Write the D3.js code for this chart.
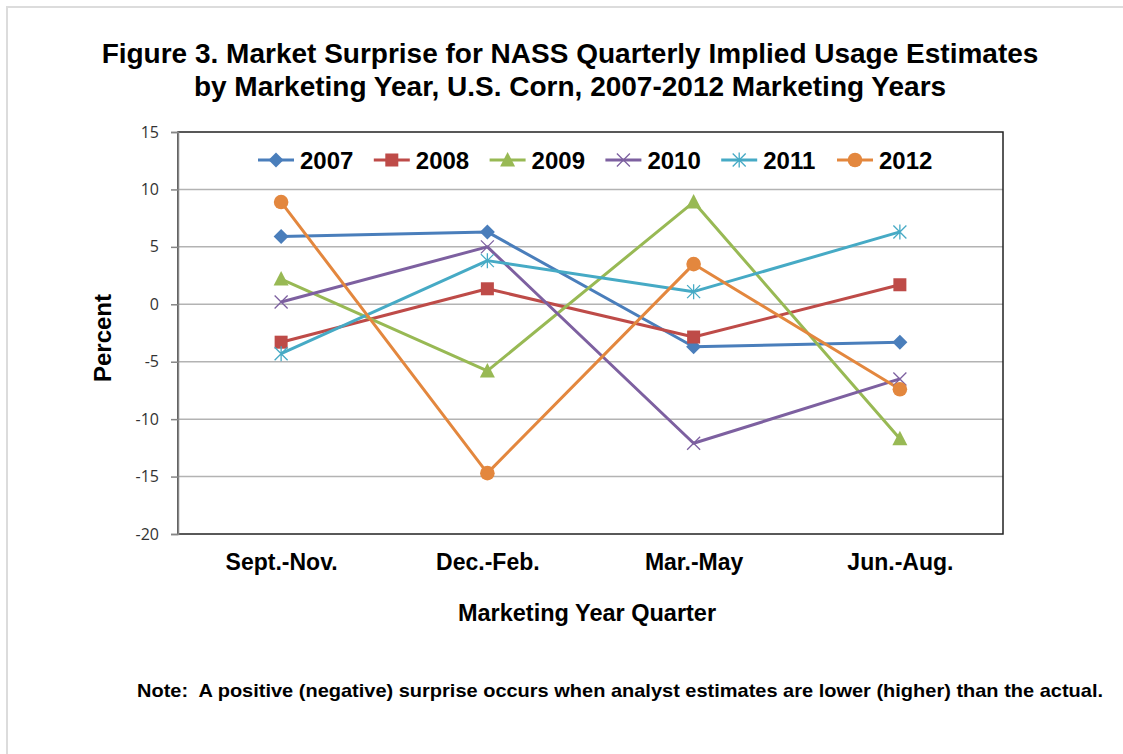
<!DOCTYPE html>
<html>
<head>
<meta charset="utf-8">
<script src="https://cdn.jsdelivr.net/npm/d3@7"></script>
<style>
  body { margin: 0; background: #fff; }
  svg { display: block; font-family: "Liberation Sans", Arial, sans-serif; }
</style>
</head>
<body>
<div id="chart"></div>
<script>
// Data
const quarters = ['Sept.-Nov.', 'Dec.-Feb.', 'Mar.-May', 'Jun.-Aug.'];
const years = ['2007', '2008', '2009', '2010', '2011', '2012'];
const v2007 = [5.9, 6.3, -3.7, -3.3];
const v2008 = [-3.3, 1.35, -2.85, 1.7];
const v2009 = [2.2, -5.8, 8.9, -11.7];
const v2010 = [0.2, 5.0, -12.1, -6.5];
const v2011 = [-4.3, 3.8, 1.1, 6.3];
const v2012 = [8.9, -14.7, 3.5, -7.4];
const yTicks = [-20, -15, -10, -5, 0, 5, 10, 15];

const seriesValues = [v2007, v2008, v2009, v2010, v2011, v2012];
const COLORS = ['#4A7EBB', '#BE4B48', '#98B954', '#7D60A0', '#46AAC5', '#E3873E'];
const MARKERS = ['diamond', 'square', 'triangle', 'x', 'star', 'circle'];

const W = 1123, H = 754;
const PLOT = { left: 178, right: 1003, top: 132, bottom: 534 };

const svg = d3.select('#chart').append('svg')
    .attr('width', W)
    .attr('height', H);

// light outer frame (runs off the right and bottom)
svg.append('path')
    .attr('d', `M7,${H + 5} V7 H${W + 5}`)
    .attr('fill', 'none')
    .attr('stroke', '#dcdcdc')
    .attr('stroke-width', 2);

// title
const title = svg.append('text')
    .attr('text-anchor', 'middle')
    .attr('font-weight', 'bold')
    .attr('font-size', 28)
    .attr('fill', '#000');
title.append('tspan').attr('x', 570).attr('y', 63)
    .text('Figure 3. Market Surprise for NASS Quarterly Implied Usage Estimates');
title.append('tspan').attr('x', 570).attr('y', 96)
    .text('by Marketing Year, U.S. Corn, 2007-2012 Marketing Years');

const x = d3.scalePoint()
    .domain(quarters)
    .range([PLOT.left, PLOT.right])
    .padding(0.5);

const y = d3.scaleLinear()
    .domain([-20, 15])
    .range([PLOT.bottom, PLOT.top]);

// gridlines
svg.append('g')
    .selectAll('line')
    .data(yTicks.filter(t => t > -20 && t < 15))
    .join('line')
    .attr('x1', PLOT.left).attr('x2', PLOT.right)
    .attr('y1', d => y(d)).attr('y2', d => y(d))
    .attr('stroke', '#b3b3b3')
    .attr('stroke-width', 1.5);

// plot area border
svg.append('rect')
    .attr('x', PLOT.left).attr('y', PLOT.top)
    .attr('width', PLOT.right - PLOT.left)
    .attr('height', PLOT.bottom - PLOT.top)
    .attr('fill', 'none')
    .attr('stroke', '#222')
    .attr('stroke-width', 1.5);

// y axis (plain hyphen for negatives, like the original)
const yAxis = d3.axisLeft(y)
    .tickValues(yTicks)
    .tickFormat(d => String(d))
    .tickSize(7)
    .tickPadding(12);
const yg = svg.append('g')
    .attr('transform', `translate(${PLOT.left},0)`)
    .call(yAxis);
yg.select('.domain').attr('stroke', '#868686').attr('stroke-width', 1.5);
yg.selectAll('.tick line').attr('stroke', '#868686').attr('stroke-width', 1.5);
yg.selectAll('.tick text')
    .attr('font-family', '"Open Sans", "Liberation Sans", sans-serif')
    .attr('font-size', 16)
    .attr('fill', '#333');

// x axis labels (no ticks)
const xAxis = d3.axisBottom(x).tickSize(0).tickPadding(20);
const xg = svg.append('g')
    .attr('transform', `translate(0,${PLOT.bottom})`)
    .call(xAxis);
xg.select('.domain').remove();
xg.selectAll('.tick text')
    .attr('font-family', '"Liberation Sans", Arial, sans-serif')
    .attr('font-weight', 'bold')
    .attr('font-size', 23)
    .attr('fill', '#000');

// axis titles
svg.append('text')
    .attr('x', 587).attr('y', 621)
    .attr('text-anchor', 'middle')
    .attr('font-weight', 'bold')
    .attr('font-size', 23.5)
    .text('Marketing Year Quarter');

svg.append('text')
    .attr('transform', 'translate(111,338) rotate(-90)')
    .attr('text-anchor', 'middle')
    .attr('font-weight', 'bold')
    .attr('font-size', 24)
    .text('Percent');

// note
svg.append('text')
    .attr('x', 137).attr('y', 697)
    .attr('font-weight', 'bold')
    .attr('font-size', 19)
    .attr('textLength', 966)
    .attr('lengthAdjust', 'spacingAndGlyphs')
    .attr('xml:space', 'preserve')
    .text('Note:  A positive (negative) surprise occurs when analyst estimates are lower (higher) than the actual.');

/**
 * Draw one marker shape at (cx, cy)
 */
const drawMarker = (sel, type, color, cx, cy) => {
    const g = sel.append('g').attr('transform', `translate(${cx},${cy})`);
    if (type === 'diamond') {
        g.append('path').attr('d', 'M0,-7.5 L7.5,0 L0,7.5 L-7.5,0 Z').attr('fill', color);
    } else if (type === 'square') {
        g.append('rect').attr('x', -6.5).attr('y', -6.5).attr('width', 13).attr('height', 13).attr('fill', color);
    } else if (type === 'triangle') {
        g.append('path').attr('d', 'M0,-8 L7.5,6.5 L-7.5,6.5 Z').attr('fill', color);
    } else if (type === 'x') {
        g.append('path').attr('d', 'M-6.5,-6.5 L6.5,6.5 M-6.5,6.5 L6.5,-6.5')
            .attr('stroke', color).attr('stroke-width', 1.3);
    } else if (type === 'star') {
        g.append('path').attr('d', 'M-6.5,-6.5 L6.5,6.5 M-6.5,6.5 L6.5,-6.5 M0,-7.5 L0,7.5')
            .attr('stroke', color).attr('stroke-width', 1.3);
    } else {
        g.append('circle').attr('r', 7.3).attr('fill', color);
    }
};

// series lines and markers
const line = d3.line()
    .x((d, i) => x(quarters[i]))
    .y(d => y(d));

const seriesG = svg.append('g');
seriesValues.forEach((vals, s) => {
    seriesG.append('path')
        .attr('d', line(vals))
        .attr('fill', 'none')
        .attr('stroke', COLORS[s])
        .attr('stroke-width', 3)
        .attr('stroke-linejoin', 'round');
});
seriesValues.forEach((vals, s) => {
    vals.forEach((v, i) => drawMarker(seriesG, MARKERS[s], COLORS[s], x(quarters[i]), y(v)));
});

// legend
const legend = svg.append('g').attr('transform', 'translate(258,160)');
years.forEach((yr, s) => {
    const lg = legend.append('g').attr('transform', `translate(${s * 115.8},0)`);
    lg.append('line')
        .attr('x1', 0).attr('x2', 36).attr('y1', 0).attr('y2', 0)
        .attr('stroke', COLORS[s]).attr('stroke-width', 3);
    drawMarker(lg, MARKERS[s], COLORS[s], 18, 0);
    lg.append('text')
        .attr('x', 42).attr('y', 8.5)
        .attr('font-weight', 'bold')
        .attr('font-size', 24)
        .text(yr);
});
</script>
</body>
</html>
